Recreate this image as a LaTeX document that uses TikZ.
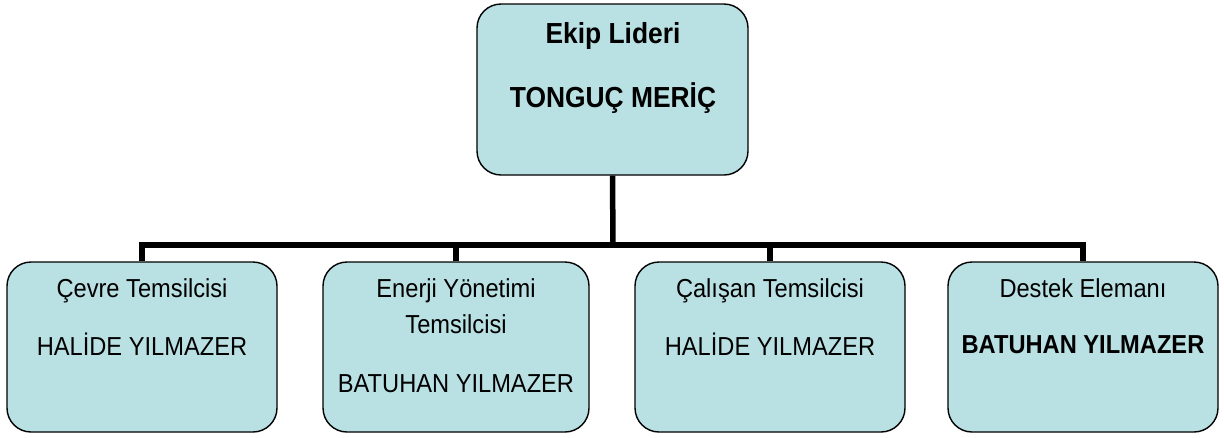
\documentclass[tikz,border=0pt]{standalone}
\usepackage{fontspec}
\setmainfont[FakeStretch=0.91]{Liberation Sans}
\definecolor{boxfill}{HTML}{B9E0E3}
\begin{document}
\begin{tikzpicture}[x=1pt,y=-1pt,
  orgbox/.style={draw=black,line width=1.4pt,fill=boxfill,rounded corners=24pt,inner sep=0pt},
  conn/.style={line width=5.5pt,black},
  toptxt/.style={anchor=base,font=\fontsize{29}{32}\selectfont\bfseries,inner sep=0pt},
  lowtxt/.style={anchor=base,font=\fontsize{26}{30}\selectfont,inner sep=0pt},
  lowbold/.style={lowtxt,font=\fontsize{26}{30}\selectfont\bfseries}]
\useasboundingbox (0,0) rectangle (1224,437);
\node[orgbox,minimum width=271pt,minimum height=171pt] (top) at (612.5,89.5) {};
\node[orgbox,minimum width=270pt,minimum height=170pt] (b1) at (142,347) {};
\node[orgbox,minimum width=266pt,minimum height=170pt] (b2) at (456,347) {};
\node[orgbox,minimum width=270pt,minimum height=170pt] (b3) at (770,347) {};
\node[orgbox,minimum width=270pt,minimum height=170pt] (b4) at (1083,347) {};
\coordinate (bus) at (613,245);
\draw[conn] (top.south) -- (bus);
\draw[conn,line join=miter] (b1.north) |- (bus) -| (b4.north);
\draw[conn] (b2.north) -- (b2.north |- bus);
\draw[conn] (b3.north) -- (b3.north |- bus);
% texts
\node[toptxt] (t1) at (613,43) {Ekip Lideri};
\node[toptxt] (t2) at (613,107) {TONGUÇ MERİÇ};
\node[lowtxt] (l1a) at (142,297) {Çevre Temsilcisi};
\node[lowtxt] (l1b) at (142,355) {HALİDE YILMAZER};
\node[lowtxt] (l2a) at (456,297) {Enerji Yönetimi};
\node[lowtxt] (l2b) at (456,333) {Temsilcisi};
\node[lowtxt] (l2c) at (456,392) {BATUHAN YILMAZER};
\node[lowtxt] (l3a) at (770,297) {Çalışan Temsilcisi};
\node[lowtxt] (l3b) at (770,355) {HALİDE YILMAZER};
\node[lowtxt] (l4a) at (1083,297) {Destek Elemanı};
\node[lowbold] (l4b) at (1083,353) {BATUHAN YILMAZER};
\end{tikzpicture}
\end{document}
